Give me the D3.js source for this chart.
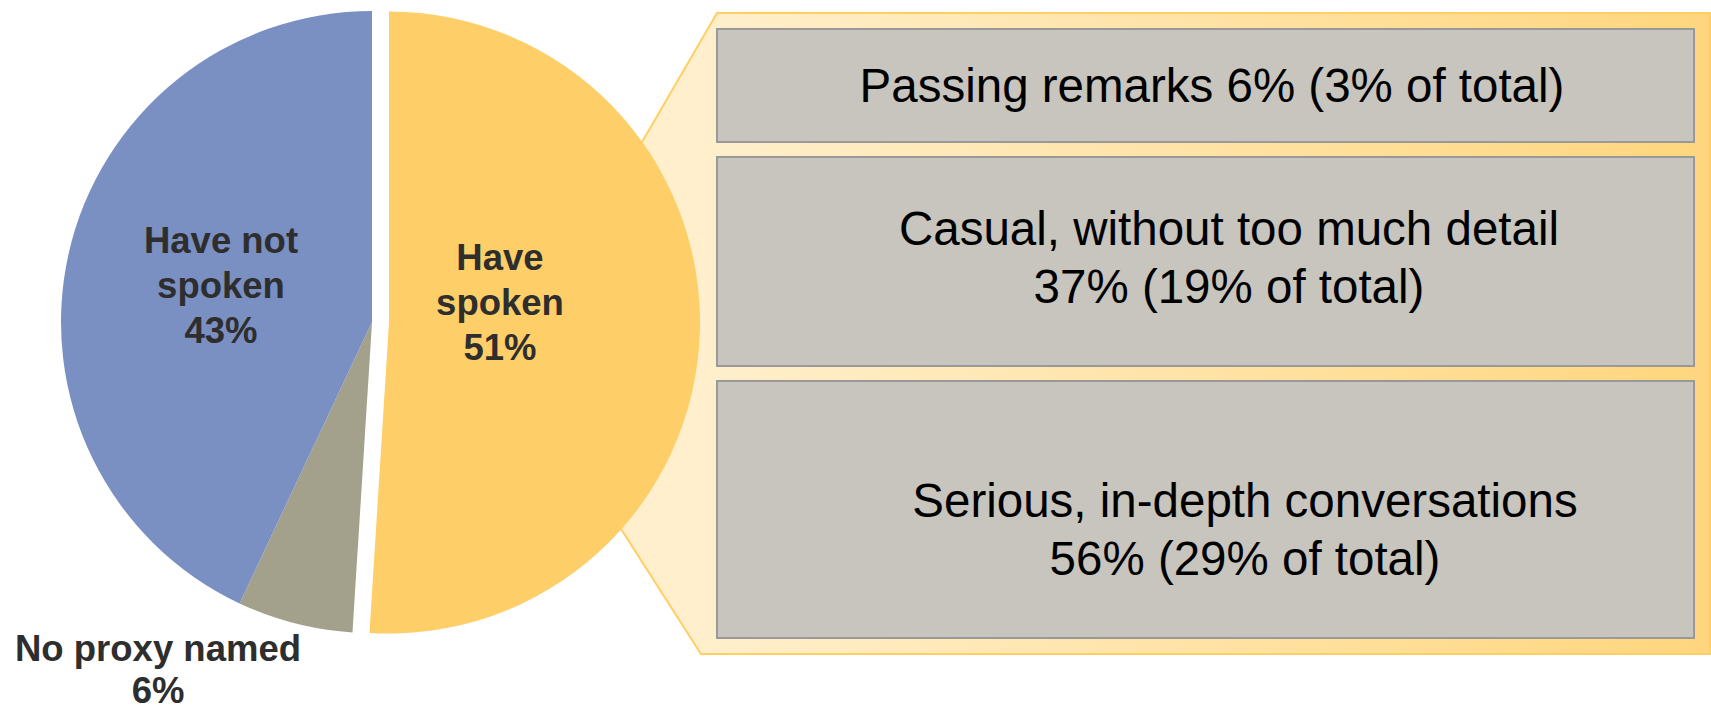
<!DOCTYPE html>
<html>
<head>
<meta charset="utf-8">
<script src="https://cdn.jsdelivr.net/npm/d3@7"></script>
<style>
  body { margin: 0; background: #fff; }
  svg { display: block; }
</style>
</head>
<body>
<svg id="chart" width="1711" height="713"></svg>
<script>
// DATA
var sliceNames = ["Have spoken", "No proxy named", "Have not spoken"];
var sliceValues = [51, 6, 43];
var sliceColors = ["#FECE68", "#A3A08B", "#7A8FC2"];
var sliceLabels = [["Have", "spoken", "51%"], ["No proxy named", "6%"], ["Have not", "spoken", "43%"]];

var detailLines = [
    ["Passing remarks 6% (3% of total)"],
    ["Casual, without too much detail", "37% (19% of total)"],
    ["Serious, in-depth conversations", "56% (29% of total)"]
];
var detailValues = [6, 37, 56];

// SVG
var svg = d3.select("#chart");
var width = +svg.attr("width");
var height = +svg.attr("height");

// Pie geometry
var cx = 372, cy = 322, r = 311;
var explode = 17;

// Panel (breakout box) geometry
var panelLeft = 717, panelRight = 1710, panelTop = 13, panelBottom = 654;
var boxLeft = 717, boxRight = 1694;

// GRADIENT
var defs = svg.append("defs");
var grad = defs.append("linearGradient")
    .attr("id", "panelGrad")
    .attr("gradientUnits", "userSpaceOnUse")
    .attr("x1", 701).attr("x2", panelRight)
    .attr("y1", 0).attr("y2", 0);
grad.append("stop").attr("offset", "0%").attr("stop-color", "#FFEFCC");
grad.append("stop").attr("offset", "100%").attr("stop-color", "#FFD67E");

// PANEL (connector shape running into the exploded slice)
var panelPts = [
    [panelLeft, panelTop], [panelRight, panelTop], [panelRight, panelBottom],
    [701, panelBottom], [575, 457], [599, 216]
];
svg.append("path")
    .attr("d", d3.line()(panelPts) + "Z")
    .attr("fill", "url(#panelGrad)")
    .attr("stroke", "#FFCF63")
    .attr("stroke-width", 2);

// BREAKOUT BOXES - heights from the three bands in the picture
var boxY = d3.scaleOrdinal()
    .domain([0, 1, 2])
    .range([[29, 142], [157, 366], [381, 638]]);

var boxes = svg.append("g").selectAll("g")
    .data(detailValues)
    .join("g");

boxes.append("rect")
    .attr("x", boxLeft)
    .attr("y", function (d, i) { return boxY(i)[0]; })
    .attr("width", boxRight - boxLeft)
    .attr("height", function (d, i) { return boxY(i)[1] - boxY(i)[0]; })
    .attr("fill", "#C7C5BE")
    .attr("stroke", "#999999")
    .attr("stroke-width", 2);

var textCx = [1212, 1229, 1245];
var textBase = [102, 245, 517];
boxes.each(function (d, i) {
    var t = d3.select(this).append("text")
        .attr("text-anchor", "middle")
        .attr("font-family", "Arial, 'Liberation Sans', sans-serif")
        .attr("font-size", "47.5px")
        .attr("fill", "#000");
    detailLines[i].forEach(function (line, j) {
        t.append("tspan")
            .attr("x", textCx[i])
            .attr("y", textBase[i] + j * 58)
            .text(line);
    });
});

// PIE
var pie = d3.pie().sort(null).startAngle(0).endAngle(2 * Math.PI);
var arcs = pie(sliceValues);
var arc = d3.arc().innerRadius(0).outerRadius(r);

var slices = svg.append("g")
    .attr("transform", "translate(" + cx + "," + cy + ")");

slices.selectAll("path")
    .data(arcs)
    .join("path")
    .attr("d", arc)
    .attr("fill", function (d, i) { return sliceColors[i]; })
    .attr("transform", function (d, i) {
        if (i !== 0) return null;
        var mid = (d.startAngle + d.endAngle) / 2;
        return "translate(" + (Math.sin(mid) * explode) + "," + (-Math.cos(mid) * explode) + ")";
    });

// LABELS
var labelFont = "Arial, 'Liberation Sans', sans-serif";
var labelPos = [
    { x: 500 - cx, y: 270 - cy, step: 45 },
    { x: 158 - cx, y: 661 - cy, step: 42 },
    { x: 221 - cx, y: 253 - cy, step: 45 }
];

slices.selectAll("text.lbl")
    .data(arcs)
    .join("text")
    .attr("class", "lbl")
    .attr("text-anchor", "middle")
    .attr("font-family", labelFont)
    .attr("font-weight", "bold")
    .attr("font-size", "36.5px")
    .attr("fill", "#2E2E2E")
    .each(function (d, i) {
        var t = d3.select(this);
        sliceLabels[i].forEach(function (line, j) {
            t.append("tspan")
                .attr("x", labelPos[i].x)
                .attr("y", labelPos[i].y + j * labelPos[i].step)
                .text(line);
        });
    });
</script>
</body>
</html>
